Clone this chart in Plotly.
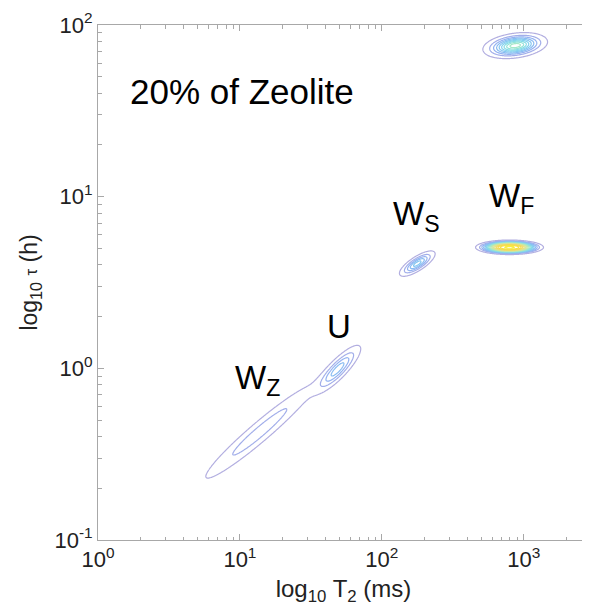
import numpy as np
import plotly.graph_objects as go

# ---- data (log10 space) ----
peak_names = ["W_Z", "U", "W_S", "W_F", "top"]
peak_logT2 = [1.14, 1.69, 2.25, 2.90, 2.94]
peak_logtau = [-0.37, -0.005, 0.61, 0.705, 1.88]
peak_sig_major = [0.27, 0.10, 0.065, 0.125, 0.095]
peak_sig_minor = [0.035, 0.028, 0.02, 0.022, 0.03]
peak_angle_deg = [35, 40, 27, 0, 6]
peak_shape_p = [2.0, 2.0, 2.0, 3.0, 2.0]
peak_amp = [0.13, 0.24, 0.30, 1.0, 0.55]

x_tick_exp = [0, 1, 2, 3]
y_tick_exp = [-1, 0, 1, 2]
x_tick_text = ["10<sup>0</sup>", "10<sup>1</sup>", "10<sup>2</sup>", "10<sup>3</sup>"]
y_tick_text = ["10<sup>-1</sup>", "10<sup>0</sup>", "10<sup>1</sup>", "10<sup>2</sup>"]

label_text = ["W<sub>Z</sub>", "U", "W<sub>S</sub>", "W<sub>F</sub>"]
label_logT2 = [1.123, 1.697, 2.243, 2.912]
label_logtau = [-0.066, 0.241, 0.885, 0.99]

# ---- build density grid ----
XR = [0, 3.46]
YR = [-1, 2]
lx = np.arange(XR[0], XR[1] + 1e-9, 0.005)
ly = np.arange(YR[0], YR[1] + 1e-9, 0.004)
GX, GY = np.meshgrid(lx, ly)
Z = np.zeros_like(GX)
for cx, cy, sa, sb, ang, p, a in zip(peak_logT2, peak_logtau, peak_sig_major,
                                     peak_sig_minor, peak_angle_deg, peak_shape_p,
                                     peak_amp):
    t = np.deg2rad(ang)
    dx = GX - cx
    dy = GY - cy
    u = dx * np.cos(t) + dy * np.sin(t)
    v = -dx * np.sin(t) + dy * np.cos(t)
    r2 = (u / sa) ** 2 + (v / sb) ** 2
    Z += a * np.exp(-0.5 * r2 ** (p / 2.0))
Z = np.round(Z, 4)

cscale = [[0.0, '#b2aee0'], [0.1, '#98aef0'], [0.2, '#88bef2'], [0.3, '#84d0f0'],
          [0.4, '#88e0e2'], [0.5, '#a4e8c8'], [0.6, '#c4e8a8'], [0.7, '#dce498'],
          [0.8, '#f0dc70'], [0.9, '#f6d84a'], [1.0, '#f8ec40']]

fig = go.Figure()
fig.add_trace(go.Contour(
    x=lx, y=ly, z=Z,
    contours=dict(start=0.03, end=1.0, size=0.06, coloring='lines'),
    colorscale=cscale, zmin=0, zmax=1,
    line=dict(width=1.2, smoothing=1.0),
    showscale=False, hoverinfo='skip'))

minor_x = [np.log10(k * 10 ** d) for d in range(0, 4) for k in range(2, 10)
           if np.log10(k * 10 ** d) < XR[1]]
minor_y = [np.log10(k * 10 ** d) for d in range(-1, 2) for k in range(2, 10)]

font_family = "Arial, Liberation Sans, sans-serif"
axis_common = dict(showline=True, linecolor='#a8a8a8', linewidth=1, mirror='ticks',
                   ticks='inside', ticklen=6, tickcolor='#a8a8a8', tickwidth=1,
                   showgrid=False, zeroline=False,
                   tickfont=dict(family=font_family, size=22, color='#222222'))

# the page body has an 8px margin: the figure is sized/offset to compensate
fig.update_layout(
    width=582, height=605,
    margin=dict(l=90, r=1, t=17, b=73),
    paper_bgcolor='white', plot_bgcolor='white',
    showlegend=False,
    xaxis=dict(range=XR, tickmode='array', tickvals=x_tick_exp, ticktext=x_tick_text,
               minor=dict(tickmode='array', tickvals=minor_x, ticks='inside', ticklen=3.5,
                          tickcolor='#a8a8a8'),
               title=dict(text="log<sub>10</sub> T<sub>2</sub> (ms)",
                          font=dict(family=font_family, size=24, color='#222222'),
                          standoff=8),
               **axis_common),
    yaxis=dict(range=YR, tickmode='array', tickvals=y_tick_exp, ticktext=y_tick_text,
               minor=dict(tickmode='array', tickvals=minor_y, ticks='inside', ticklen=3.5,
                          tickcolor='#a8a8a8'),
               title=dict(text="log<sub>10</sub> <span style='font-size:17px'>τ</span> (h)",
                          font=dict(family=font_family, size=23, color='#222222'),
                          standoff=10),
               **axis_common),
)

fig.add_annotation(x=0.211, y=1.61, xref='x', yref='y', text="20% of Zeolite",
                   showarrow=False, xanchor='left', yanchor='middle',
                   font=dict(family=font_family, size=35, color='black'))
for t, x, y in zip(label_text, label_logT2, label_logtau):
    fig.add_annotation(x=x, y=y, xref='x', yref='y', text=t, showarrow=False,
                       xanchor='center', yanchor='middle',
                       font=dict(family=font_family, size=33, color='black'))

fig.write_html("out.html")
